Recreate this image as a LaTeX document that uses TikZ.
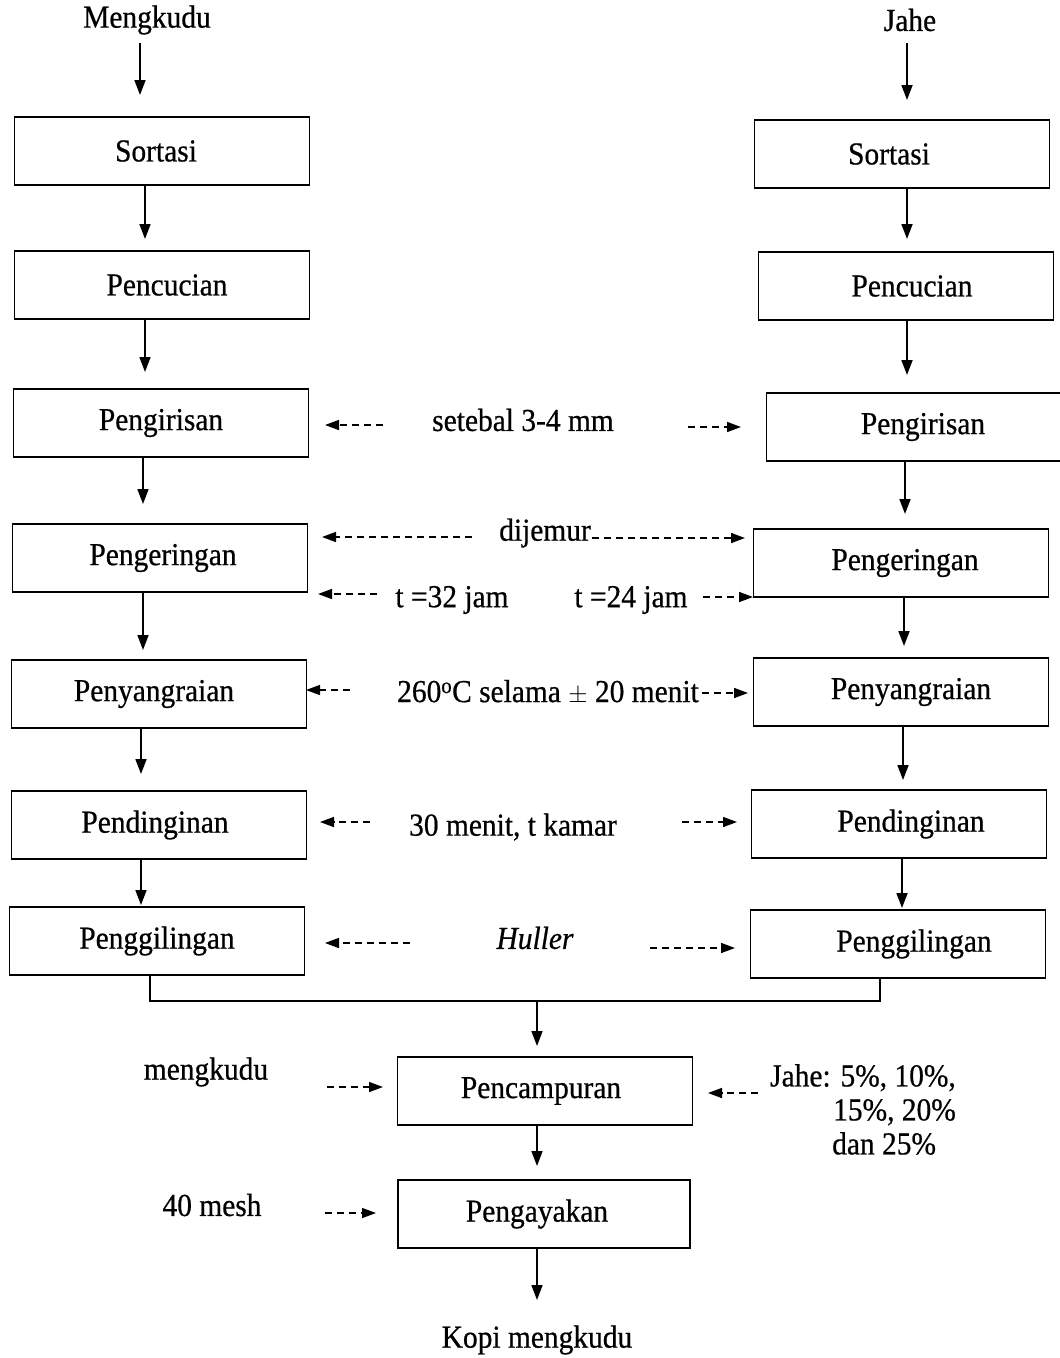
\documentclass[tikz,border=0pt]{standalone}
\usepackage{fontspec}
\setmainfont[FakeStretch=0.92,FakeBold=0.6]{Liberation Serif}
\usetikzlibrary{arrows.meta}
\begin{document}
\begin{tikzpicture}[x=1pt,y=-1pt,
  box/.style={draw, line width=1.8pt, minimum width=295pt, minimum height=68pt, inner sep=0pt, font=\fontsize{32}{36}\selectfont},
  tx/.style={execute at begin node={\hspace*{#1}}},
  lbl/.style={inner sep=0pt, font=\fontsize{32}{36}\selectfont},
  flow/.style={line width=1.7pt, -{Triangle[length=15pt,width=11pt]}},
  dflow/.style={line width=1.6pt, dash pattern=on 7pt off 5pt, -{Triangle[length=14pt,width=10pt]}}
]
\useasboundingbox (0,0) rectangle (1060,1358);
% titles
\node[lbl] (m0) at (147,20) {Mengkudu};
\node[lbl] (j0) at (910,20) {Jahe};
% left column
\node[box, tx=-12pt] (m1) at (162,151) {Sortasi};
\node[box, tx=10pt] (m2) at (162,285) {Pencucian};
\node[box] (m3) at (161,423) {Pengirisan};
\node[box, tx=6pt] (m4) at (160,558) {Pengeringan};
\node[box, tx=-10pt] (m5) at (159,694) {Penyangraian};
\node[box, tx=-8pt] (m6) at (159,825) {Pendinginan};
\node[box] (m7) at (157,941) {Penggilingan};
% right column
\node[box, tx=-26pt] (j1) at (902,154) {Sortasi};
\node[box, tx=12pt] (j2) at (906,286) {Pencucian};
\node[box, tx=18pt] (j3) at (914,427) {Pengirisan};
\node[box, tx=8pt] (j4) at (901,563) {Pengeringan};
\node[box, tx=20pt] (j5) at (901,692) {Penyangraian};
\node[box, tx=24pt] (j6) at (899,824) {Pendinginan};
\node[box, tx=32pt] (j7) at (898,944) {Penggilingan};
% center
\node[box, tx=-8pt] (c1) at (545,1091) {Pencampuran};
\node[box, minimum width=292pt, tx=-14pt] (c2) at (544,1214) {Pengayakan};
\node[lbl] (end) at (537,1340) {Kopi mengkudu};
% vertical flows left
\draw[flow] (140,0 |- m0.south) ++(0,8) -- (140,95);
\draw[flow] (145,0 |- m1.south) -- (145,239);
\draw[flow] (145,0 |- m2.south) -- (145,372);
\draw[flow] (143,0 |- m3.south) -- (143,504);
\draw[flow] (143,0 |- m4.south) -- (143,650);
\draw[flow] (141,0 |- m5.south) -- (141,774);
\draw[flow] (141,0 |- m6.south) -- (141,905);
% vertical flows right
\draw[flow] (907,0 |- j0.south) ++(0,12) -- (907,100);
\draw[flow] (907,0 |- j1.south) -- (907,239);
\draw[flow] (907,0 |- j2.south) -- (907,375);
\draw[flow] (905,0 |- j3.south) -- (905,514);
\draw[flow] (904,0 |- j4.south) -- (904,646);
\draw[flow] (903,0 |- j5.south) -- (903,780);
\draw[flow] (902,0 |- j6.south) -- (902,908);
% merge
\coordinate (mg) at (537,1001);
\draw[line width=1.7pt] (150,0 |- m7.south) |- (mg) -| (880,0 |- j7.south);
\draw[flow] (mg) -- (537,1046);
\draw[flow] (537,0 |- c1.south) -- (537,1166);
\draw[flow] (537,0 |- c2.south) -- (537,1300);
% middle labels
\node[lbl] (t1) at (523,420) {setebal 3-4 mm};
\draw[dflow] (383,425) -- (325,425);
\draw[dflow] (688,427) -- (741,427);
\node[lbl] (t2) at (545,533) {dijemur};
\draw[dflow] (472,537) -- (322,537);
\draw[dflow] (592,538) -- (745,538);
\node[lbl] (t3) at (452,600) {t =32 jam};
\draw[dflow] (377,594) -- (318,594);
\node[lbl] (t4) at (631,600) {t =24 jam};
\draw[dflow] (703,597) -- (753,597);
\node[lbl] (t5) at (548,692) {260\textsuperscript{o}C selama $\pm$ 20 menit};
\draw[dflow] (350,690) -- (306,690);
\draw[dflow] (702,693) -- (748,693);
\node[lbl] (t6) at (513,827) {30 menit, t kamar};
\draw[dflow] (370,822) -- (320,822);
\draw[dflow] (682,822) -- (737,822);
\node[lbl] (t7) at (535,938) {\itshape Huller};
\draw[dflow] (410,943) -- (325,943);
\draw[dflow] (650,948) -- (735,948);
% mixing inputs
\node[lbl] (t8) at (206,1072) {mengkudu};
\draw[dflow] (327,1087) -- (383,1087);
\node[lbl, anchor=north west, align=left] (t9) at (770,1064) {Jahe: 5\%, 10\%,\\[-2pt]\hspace*{63pt}15\%, 20\%\\[-2pt]\hspace*{62pt}dan 25\%};
\draw[dflow] (758,1093) -- (708,1093);
\node[lbl] (t10) at (212,1205) {40 mesh};
\draw[dflow] (325,1213) -- (376,1213);
\end{tikzpicture}
\end{document}
